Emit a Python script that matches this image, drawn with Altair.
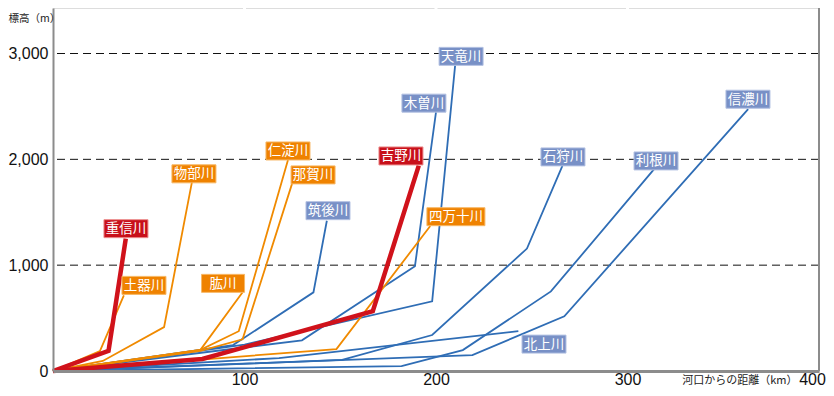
import altair as alt
import pandas as pd

# ---- data (distance from river mouth in km, elevation in m) ----
rivers = ["北上川", "信濃川", "利根川", "石狩川", "天竜川", "木曽川", "筑後川",
          "四万十川", "那賀川", "仁淀川", "肱川", "物部川", "土器川",
          "吉野川", "重信川"]
groups = ["blue", "blue", "blue", "blue", "blue", "blue", "blue",
          "orange", "orange", "orange", "orange", "orange", "orange",
          "red", "red"]

dist = {
    "北上川": [0, 118, 243],
    "信濃川": [0, 219, 267, 363],
    "利根川": [0, 182, 214, 260, 314],
    "石狩川": [0, 151, 198, 247.5, 266],
    "天竜川": [0, 100, 198, 210],
    "木曽川": [0, 130, 189, 200],
    "筑後川": [0, 94, 136, 143],
    "四万十川": [0, 148, 197],
    "那賀川": [0, 77, 99, 124.8],
    "仁淀川": [0, 77, 97, 122.7],
    "肱川": [0, 77, 99],
    "物部川": [0, 26, 58, 72.6],
    "土器川": [0, 24.5, 37],
    "吉野川": [0, 78, 167, 191],
    "重信川": [0, 29, 38],
}
elev = {
    "北上川": [0, 122, 376],
    "信濃川": [0, 150, 517, 2474],
    "利根川": [0, 47, 198, 752, 1910],
    "石狩川": [0, 105, 340, 1157, 1938],
    "天竜川": [0, 250, 658, 2890],
    "木曽川": [0, 290, 990, 2445],
    "筑後川": [0, 245, 743, 1420],
    "四万十川": [0, 207, 1370],
    "那賀川": [0, 190, 300, 1768],
    "仁淀川": [0, 200, 376, 1994],
    "肱川": [0, 200, 745],
    "物部川": [0, 95, 415, 1790],
    "土器川": [0, 188, 715],
    "吉野川": [0, 113, 565, 1940],
    "重信川": [0, 190, 1250],
}

# label box centres (km, m) and half widths
label_x = [256.4, 362.9, 314.9, 266.3, 213.1, 193.7, 143.6,
           210.4, 135.8, 122.7, 88.8, 73.6, 47.5, 181.7, 38.1]
label_y = [254, 2568, 1985, 2023, 2973, 2531, 1515,
           1458, 1853, 2079, 828, 1863, 809, 2032, 1345]
label_hw = [22, 22, 22, 22, 22, 22, 22, 29, 22, 22, 21.5, 22, 22, 22, 22]

x_ticks = [100, 200, 300, 400]
y_ticks = [0, 1000, 2000, 3000]
x_grid = [100, 200, 300]
y_grid = [1000, 2000, 3000]

line_color = {"blue": "#2f6db5", "orange": "#f08a00", "red": "#d0121b"}
box_fill = {"blue": "#7890c6", "orange": "#ef8200", "red": "#c8101a"}
box_stroke = {"blue": "#b3c1e2", "orange": "#f7b866", "red": "#ec8c8c"}

rows = []
for r, g in zip(rivers, groups):
    for i, (xv, yv) in enumerate(zip(dist[r], elev[r])):
        rows.append({"river": r, "group": g, "idx": i, "km": xv, "m": yv})
lines_df = pd.DataFrame(rows)

labels_df = pd.DataFrame({
    "river": rivers, "group": groups, "lx": label_x, "ly": label_y, "hw": label_hw,
})

X_DOM = [0, 400]
Y_DOM = [0, 3430]
xs = alt.Scale(domain=X_DOM, nice=False, zero=False)
ys = alt.Scale(domain=Y_DOM, nice=False, zero=False)

x_axis = alt.Axis(values=x_ticks, grid=False, ticks=False, domainColor="#8c8c8c",
                  domainWidth=3, labelFont="Liberation Sans", labelFontSize=16,
                  labelColor="#111111", labelPadding=0, labelFlush=False,
                  labelOffset={"condition": {"test": "datum.value == 400", "value": -7},
                               "value": 0},
                  title="河口からの距離（km）", titleFont="Noto Sans CJK JP",
                  titleFontSize=11, titleFontWeight="normal", titleColor="#222222",
                  titleX=744, titleY=9, titleAlign="right", titleBaseline="middle",
                  zindex=1)
y_axis = alt.Axis(values=y_ticks, labelExpr="format(datum.value, ',')",
                  grid=False, ticks=False,
                  domainColor="#8c8c8c", domainWidth=2, labelFont="Liberation Sans",
                  labelFontSize=16, labelColor="#111111", labelPadding=5,
                  title="標高（m）", titleFont="Noto Sans CJK JP", titleFontSize=10.5,
                  titleFontWeight="normal", titleColor="#222222", titleAngle=0,
                  titleX=-45, titleY=10, titleAlign="left", titleBaseline="middle",
                  zindex=1)

def X(field):
    return alt.X(field, type="quantitative", scale=xs, axis=x_axis)

def Y(field):
    return alt.Y(field, type="quantitative", scale=ys, axis=y_axis)

vgrid = alt.Chart(pd.DataFrame({"km": x_grid})).mark_rule(
    color="white", strokeWidth=3).encode(x=X("km"))
hgrid = alt.Chart(pd.DataFrame({"m": y_grid})).mark_rule(
    color="#111111", strokeWidth=1, strokeDash=[8, 5]).encode(y=Y("m"))

def line_layer(group, width):
    return alt.Chart(lines_df[lines_df.group == group]).mark_line(
        color=line_color[group], strokeWidth=width, strokeJoin="miter").encode(
        x=X("km"), y=Y("m"), detail="river:N", order="idx:Q",
    )

def box_layer(group):
    d = labels_df[labels_df.group == group]
    rect = alt.Chart(d).mark_rect(
        fill=box_fill[group], stroke=box_stroke[group], strokeWidth=1,
        xOffset={"expr": "-datum.hw"}, x2Offset={"expr": "datum.hw"},
        yOffset=-9, y2Offset=9,
    ).encode(x=X("lx"), x2="lx:Q", y=Y("ly"), y2="ly:Q")
    txt = alt.Chart(d).mark_text(
        color="white", font="Noto Sans CJK JP", fontSize=13.5, baseline="middle",
        align="center", dy=0.5,
    ).encode(x=X("lx"), y=Y("ly"), text="river:N")
    return rect + txt

right_edge = alt.Chart(pd.DataFrame({"km": [400]})).mark_rule(
    color="#8c8c8c", strokeWidth=2).encode(x=X("km"))

chart = alt.layer(
    vgrid, hgrid,
    line_layer("blue", 1.8), line_layer("orange", 1.8), line_layer("red", 4.5),
    box_layer("blue"), box_layer("orange"), box_layer("red"),
    right_edge,
).properties(
    width=766, height=363,
    autosize=alt.AutoSizeParams(type="none"),
    padding={"left": 45, "top": 0, "right": 7, "bottom": 17},
).configure_view(fill="#f2f2f2", stroke=None).configure(background="white")

chart.save("out.html", embed_options={"renderer": "svg", "actions": False})
